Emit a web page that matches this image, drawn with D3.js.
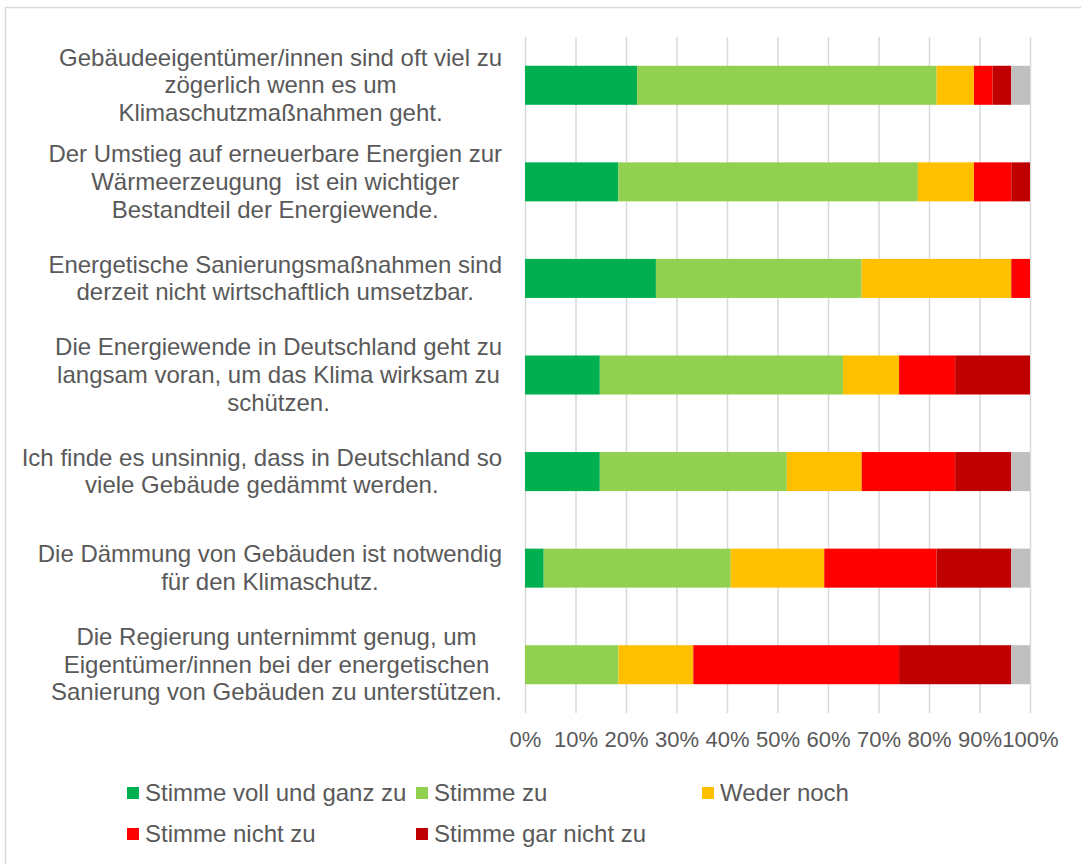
<!DOCTYPE html>
<html>
<head>
<meta charset="utf-8">
<script src="https://cdn.jsdelivr.net/npm/d3@7"></script>
<style>
  body { margin: 0; background: #fff; }
  text { font-family: "Liberation Sans", Arial, sans-serif; fill: #595959; }
</style>
</head>
<body>
<div id="root"></div>
<script>
// statements, line breaks as in the original chart
const labels = [
  ["Gebäudeeigentümer/innen sind oft viel zu", "zögerlich wenn es um", "Klimaschutzmaßnahmen geht."],
  ["Der Umstieg auf erneuerbare Energien zur", "Wärmeerzeugung  ist ein wichtiger", "Bestandteil der Energiewende."],
  ["Energetische Sanierungsmaßnahmen sind", "derzeit nicht wirtschaftlich umsetzbar."],
  ["Die Energiewende in Deutschland geht zu", "langsam voran, um das Klima wirksam zu", "schützen."],
  ["Ich finde es unsinnig, dass in Deutschland so", "viele Gebäude gedämmt werden."],
  ["Die Dämmung von Gebäuden ist notwendig", "für den Klimaschutz."],
  ["Die Regierung unternimmt genug, um", "Eigentümer/innen bei der energetischen", "Sanierung von Gebäuden zu unterstützen."]
];

const seriesNames = ["Stimme voll und ganz zu", "Stimme zu", "Weder noch", "Stimme nicht zu", "Stimme gar nicht zu", "Keine Angabe"];
const seriesColors = ["#00b050", "#92d050", "#ffc000", "#ff0000", "#c00000", "#bfbfbf"];

// shares in percent, one array per answer
const vollUndGanz = [22.2, 18.5, 25.9, 14.8, 14.8, 3.7, 0];
const stimmeZu    = [59.3, 59.3, 40.7, 48.1, 37.0, 37.0, 18.5];
const wederNoch   = [7.4, 11.1, 29.6, 11.1, 14.8, 18.5, 14.8];
const nichtZu     = [3.7, 7.4, 3.7, 11.1, 18.5, 22.2, 40.7];
const garNichtZu  = [3.7, 3.7, 0, 14.8, 11.1, 14.8, 22.2];
const keineAngabe = [3.7, 0, 0, 0, 3.7, 3.7, 3.7];

const tickValues = [0, 0.1, 0.2, 0.3, 0.4, 0.5, 0.6, 0.7, 0.8, 0.9, 1];

const width = 1081;
const height = 864;
const seriesValues = [vollUndGanz, stimmeZu, wederNoch, nichtZu, garNichtZu, keineAngabe];

const rows = labels.map((l, i) => {
  const row = { id: i };
  seriesNames.forEach((s, j) => (row[s] = seriesValues[j][i]));
  return row;
});

const svg = d3.select("#root")
  .append("svg")
  .attr("width", width)
  .attr("height", height);

// chart border
svg.append("rect")
  .attr("x", 5.5)
  .attr("y", 7.5)
  .attr("width", 1090)
  .attr("height", 870)
  .attr("fill", "none")
  .attr("stroke", "#d9d9d9")
  .attr("stroke-width", 1.5);

const x = d3.scaleLinear().domain([0, 1]).range([525, 1030]);
const y = d3.scaleBand()
  .domain(rows.map((d) => d.id))
  .range([37, 713])
  .paddingInner(0.596)
  .paddingOuter(0.298);

// axis + gridlines
const xAxis = d3.axisBottom(x)
  .tickValues(tickValues)
  .tickFormat(d3.format(".0%"))
  .tickSizeInner(-(713 - 37))
  .tickSizeOuter(0)
  .tickPadding(18);

const gx = svg.append("g")
  .attr("transform", "translate(0,713)")
  .call(xAxis);
gx.select(".domain").remove();
gx.selectAll(".tick line").attr("stroke", "#d9d9d9").attr("stroke-width", 1.5);
gx.selectAll(".tick text")
  .style("font-size", "22px")
  .style("fill", "#595959");

// bars
const stack = d3.stack().keys(seriesNames).offset(d3.stackOffsetExpand);
const layers = stack(rows);

svg.append("g")
  .selectAll("g")
  .data(layers)
  .join("g")
  .attr("fill", (d, i) => seriesColors[i])
  .selectAll("rect")
  .data((d) => d)
  .join("rect")
  .attr("x", (d) => x(d[0]))
  .attr("y", (d) => y(d.data.id))
  .attr("width", (d) => x(d[1]) - x(d[0]))
  .attr("height", y.bandwidth());

// category labels, lines centred in a block right-aligned at the axis
const lineH = 27.7;
const labelGroups = svg.append("g")
  .selectAll("text")
  .data(labels)
  .join("text")
  .style("font-size", "24px")
  .style("white-space", "pre")
  .attr("text-anchor", "middle");

labelGroups.each(function (lines, i) {
  const t = d3.select(this);
  const cy = y(i) + y.bandwidth() / 2;
  lines.forEach((line, k) => {
    t.append("tspan")
      .text(line)
      .attr("y", cy + (k - (lines.length - 1) / 2) * lineH + 8);
  });
  let maxW = 0;
  t.selectAll("tspan").each(function () {
    maxW = Math.max(maxW, this.getComputedTextLength());
  });
  t.selectAll("tspan").attr("x", 502 - maxW / 2);
});

// legend
const legendPos = [[127, 793], [416, 793], [702, 793], [127, 834], [416, 834]];
const legend = svg.append("g")
  .selectAll("g")
  .data(seriesNames.slice(0, 5))
  .join("g")
  .attr("transform", (d, i) => `translate(${legendPos[i][0]},${legendPos[i][1]})`);

legend.append("rect")
  .attr("x", 0)
  .attr("y", -6)
  .attr("width", 12)
  .attr("height", 12)
  .attr("fill", (d, i) => seriesColors[i]);

legend.append("text")
  .attr("x", 18)
  .attr("y", 8)
  .style("font-size", "24px")
  .text((d) => d);
</script>
</body>
</html>
